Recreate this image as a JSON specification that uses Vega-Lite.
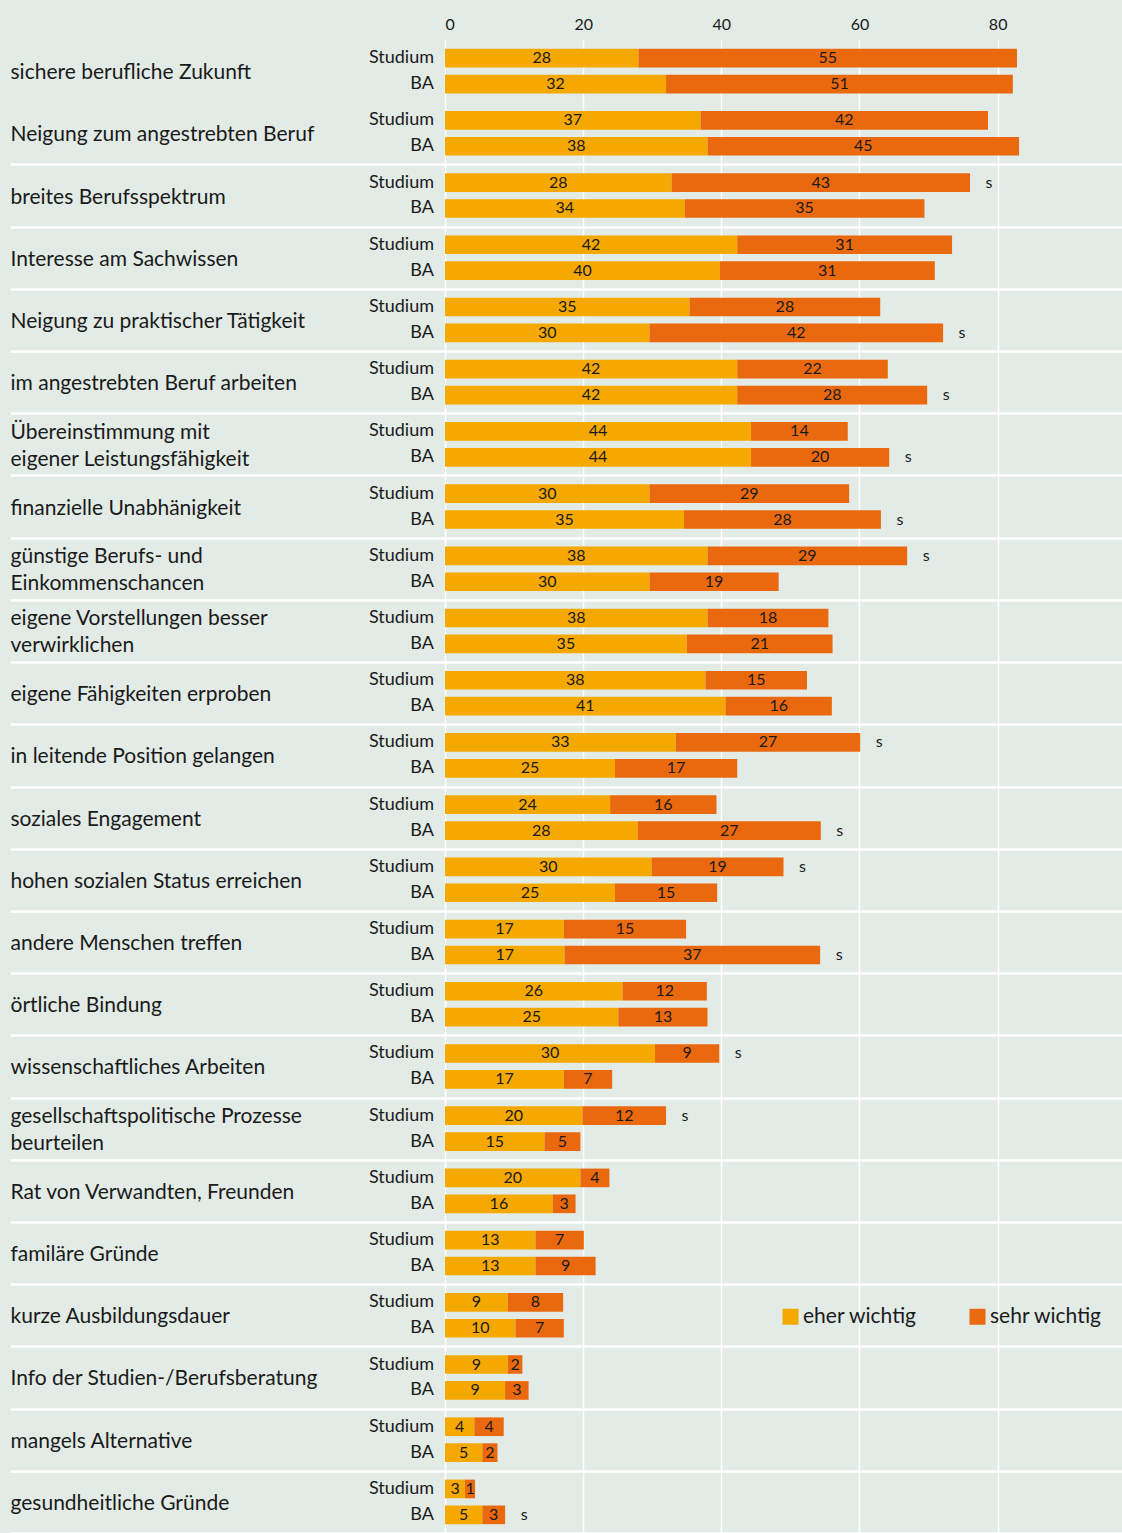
{
  "$schema": "https://vega.github.io/schema/vega-lite/v6.json",
  "autosize": {"type": "none"},
  "padding": {"left": 445, "top": 40, "right": 0, "bottom": 0},
  "width": 677,
  "height": 1493,
  "background": "#E2EBE6",
  "config": {"view": {"stroke": null}, "font": "Lato"},
  "data": {"values": [
    {"c":"sichere berufliche Zukunft","g":"Studium","k":"eher wichtig","v":28.0,"t":"28","s":0},
    {"c":"sichere berufliche Zukunft","g":"Studium","k":"sehr wichtig","v":54.8,"t":"55","s":0},
    {"c":"sichere berufliche Zukunft","g":"BA","k":"eher wichtig","v":32.0,"t":"32","s":0},
    {"c":"sichere berufliche Zukunft","g":"BA","k":"sehr wichtig","v":50.2,"t":"51","s":0},
    {"c":"Neigung zum angestrebten Beruf","g":"Studium","k":"eher wichtig","v":37.0,"t":"37","s":0},
    {"c":"Neigung zum angestrebten Beruf","g":"Studium","k":"sehr wichtig","v":41.6,"t":"42","s":0},
    {"c":"Neigung zum angestrebten Beruf","g":"BA","k":"eher wichtig","v":38.0,"t":"38","s":0},
    {"c":"Neigung zum angestrebten Beruf","g":"BA","k":"sehr wichtig","v":45.1,"t":"45","s":0},
    {"c":"breites Berufsspektrum","g":"Studium","k":"eher wichtig","v":32.8,"t":"28","s":1},
    {"c":"breites Berufsspektrum","g":"Studium","k":"sehr wichtig","v":43.2,"t":"43","s":1},
    {"c":"breites Berufsspektrum","g":"BA","k":"eher wichtig","v":34.7,"t":"34","s":0},
    {"c":"breites Berufsspektrum","g":"BA","k":"sehr wichtig","v":34.7,"t":"35","s":0},
    {"c":"Interesse am Sachwissen","g":"Studium","k":"eher wichtig","v":42.3,"t":"42","s":0},
    {"c":"Interesse am Sachwissen","g":"Studium","k":"sehr wichtig","v":31.1,"t":"31","s":0},
    {"c":"Interesse am Sachwissen","g":"BA","k":"eher wichtig","v":39.8,"t":"40","s":0},
    {"c":"Interesse am Sachwissen","g":"BA","k":"sehr wichtig","v":31.1,"t":"31","s":0},
    {"c":"Neigung zu praktischer Tätigkeit","g":"Studium","k":"eher wichtig","v":35.4,"t":"35","s":0},
    {"c":"Neigung zu praktischer Tätigkeit","g":"Studium","k":"sehr wichtig","v":27.6,"t":"28","s":0},
    {"c":"Neigung zu praktischer Tätigkeit","g":"BA","k":"eher wichtig","v":29.6,"t":"30","s":1},
    {"c":"Neigung zu praktischer Tätigkeit","g":"BA","k":"sehr wichtig","v":42.5,"t":"42","s":1},
    {"c":"im angestrebten Beruf arbeiten","g":"Studium","k":"eher wichtig","v":42.3,"t":"42","s":0},
    {"c":"im angestrebten Beruf arbeiten","g":"Studium","k":"sehr wichtig","v":21.8,"t":"22","s":0},
    {"c":"im angestrebten Beruf arbeiten","g":"BA","k":"eher wichtig","v":42.3,"t":"42","s":1},
    {"c":"im angestrebten Beruf arbeiten","g":"BA","k":"sehr wichtig","v":27.5,"t":"28","s":1},
    {"c":"Übereinstimmung mit|eigener Leistungsfähigkeit","g":"Studium","k":"eher wichtig","v":44.3,"t":"44","s":0},
    {"c":"Übereinstimmung mit|eigener Leistungsfähigkeit","g":"Studium","k":"sehr wichtig","v":14.0,"t":"14","s":0},
    {"c":"Übereinstimmung mit|eigener Leistungsfähigkeit","g":"BA","k":"eher wichtig","v":44.3,"t":"44","s":1},
    {"c":"Übereinstimmung mit|eigener Leistungsfähigkeit","g":"BA","k":"sehr wichtig","v":20.0,"t":"20","s":1},
    {"c":"finanzielle Unabhänigkeit","g":"Studium","k":"eher wichtig","v":29.6,"t":"30","s":0},
    {"c":"finanzielle Unabhänigkeit","g":"Studium","k":"sehr wichtig","v":28.9,"t":"29","s":0},
    {"c":"finanzielle Unabhänigkeit","g":"BA","k":"eher wichtig","v":34.6,"t":"35","s":1},
    {"c":"finanzielle Unabhänigkeit","g":"BA","k":"sehr wichtig","v":28.5,"t":"28","s":1},
    {"c":"günstige Berufs- und|Einkommenschancen","g":"Studium","k":"eher wichtig","v":38.0,"t":"38","s":1},
    {"c":"günstige Berufs- und|Einkommenschancen","g":"Studium","k":"sehr wichtig","v":28.9,"t":"29","s":1},
    {"c":"günstige Berufs- und|Einkommenschancen","g":"BA","k":"eher wichtig","v":29.6,"t":"30","s":0},
    {"c":"günstige Berufs- und|Einkommenschancen","g":"BA","k":"sehr wichtig","v":18.7,"t":"19","s":0},
    {"c":"eigene Vorstellungen besser|verwirklichen","g":"Studium","k":"eher wichtig","v":38.0,"t":"38","s":0},
    {"c":"eigene Vorstellungen besser|verwirklichen","g":"Studium","k":"sehr wichtig","v":17.5,"t":"18","s":0},
    {"c":"eigene Vorstellungen besser|verwirklichen","g":"BA","k":"eher wichtig","v":35.0,"t":"35","s":0},
    {"c":"eigene Vorstellungen besser|verwirklichen","g":"BA","k":"sehr wichtig","v":21.1,"t":"21","s":0},
    {"c":"eigene Fähigkeiten erproben","g":"Studium","k":"eher wichtig","v":37.7,"t":"38","s":0},
    {"c":"eigene Fähigkeiten erproben","g":"Studium","k":"sehr wichtig","v":14.7,"t":"15","s":0},
    {"c":"eigene Fähigkeiten erproben","g":"BA","k":"eher wichtig","v":40.6,"t":"41","s":0},
    {"c":"eigene Fähigkeiten erproben","g":"BA","k":"sehr wichtig","v":15.4,"t":"16","s":0},
    {"c":"in leitende Position gelangen","g":"Studium","k":"eher wichtig","v":33.4,"t":"33","s":1},
    {"c":"in leitende Position gelangen","g":"Studium","k":"sehr wichtig","v":26.7,"t":"27","s":1},
    {"c":"in leitende Position gelangen","g":"BA","k":"eher wichtig","v":24.6,"t":"25","s":0},
    {"c":"in leitende Position gelangen","g":"BA","k":"sehr wichtig","v":17.7,"t":"17","s":0},
    {"c":"soziales Engagement","g":"Studium","k":"eher wichtig","v":23.9,"t":"24","s":0},
    {"c":"soziales Engagement","g":"Studium","k":"sehr wichtig","v":15.4,"t":"16","s":0},
    {"c":"soziales Engagement","g":"BA","k":"eher wichtig","v":27.9,"t":"28","s":1},
    {"c":"soziales Engagement","g":"BA","k":"sehr wichtig","v":26.5,"t":"27","s":1},
    {"c":"hohen sozialen Status erreichen","g":"Studium","k":"eher wichtig","v":29.9,"t":"30","s":1},
    {"c":"hohen sozialen Status erreichen","g":"Studium","k":"sehr wichtig","v":19.1,"t":"19","s":1},
    {"c":"hohen sozialen Status erreichen","g":"BA","k":"eher wichtig","v":24.6,"t":"25","s":0},
    {"c":"hohen sozialen Status erreichen","g":"BA","k":"sehr wichtig","v":14.8,"t":"15","s":0},
    {"c":"andere Menschen treffen","g":"Studium","k":"eher wichtig","v":17.2,"t":"17","s":0},
    {"c":"andere Menschen treffen","g":"Studium","k":"sehr wichtig","v":17.7,"t":"15","s":0},
    {"c":"andere Menschen treffen","g":"BA","k":"eher wichtig","v":17.3,"t":"17","s":1},
    {"c":"andere Menschen treffen","g":"BA","k":"sehr wichtig","v":37.0,"t":"37","s":1},
    {"c":"örtliche Bindung","g":"Studium","k":"eher wichtig","v":25.7,"t":"26","s":0},
    {"c":"örtliche Bindung","g":"Studium","k":"sehr wichtig","v":12.2,"t":"12","s":0},
    {"c":"örtliche Bindung","g":"BA","k":"eher wichtig","v":25.1,"t":"25","s":0},
    {"c":"örtliche Bindung","g":"BA","k":"sehr wichtig","v":12.9,"t":"13","s":0},
    {"c":"wissenschaftliches Arbeiten","g":"Studium","k":"eher wichtig","v":30.4,"t":"30","s":1},
    {"c":"wissenschaftliches Arbeiten","g":"Studium","k":"sehr wichtig","v":9.3,"t":"9","s":1},
    {"c":"wissenschaftliches Arbeiten","g":"BA","k":"eher wichtig","v":17.2,"t":"17","s":0},
    {"c":"wissenschaftliches Arbeiten","g":"BA","k":"sehr wichtig","v":7.0,"t":"7","s":0},
    {"c":"gesellschaftspolitische Prozesse|beurteilen","g":"Studium","k":"eher wichtig","v":19.9,"t":"20","s":1},
    {"c":"gesellschaftspolitische Prozesse|beurteilen","g":"Studium","k":"sehr wichtig","v":12.1,"t":"12","s":1},
    {"c":"gesellschaftspolitische Prozesse|beurteilen","g":"BA","k":"eher wichtig","v":14.4,"t":"15","s":0},
    {"c":"gesellschaftspolitische Prozesse|beurteilen","g":"BA","k":"sehr wichtig","v":5.2,"t":"5","s":0},
    {"c":"Rat von Verwandten, Freunden","g":"Studium","k":"eher wichtig","v":19.6,"t":"20","s":0},
    {"c":"Rat von Verwandten, Freunden","g":"Studium","k":"sehr wichtig","v":4.2,"t":"4","s":0},
    {"c":"Rat von Verwandten, Freunden","g":"BA","k":"eher wichtig","v":15.6,"t":"16","s":0},
    {"c":"Rat von Verwandten, Freunden","g":"BA","k":"sehr wichtig","v":3.3,"t":"3","s":0},
    {"c":"familäre Gründe","g":"Studium","k":"eher wichtig","v":13.1,"t":"13","s":0},
    {"c":"familäre Gründe","g":"Studium","k":"sehr wichtig","v":7.0,"t":"7","s":0},
    {"c":"familäre Gründe","g":"BA","k":"eher wichtig","v":13.1,"t":"13","s":0},
    {"c":"familäre Gründe","g":"BA","k":"sehr wichtig","v":8.7,"t":"9","s":0},
    {"c":"kurze Ausbildungsdauer","g":"Studium","k":"eher wichtig","v":9.1,"t":"9","s":0},
    {"c":"kurze Ausbildungsdauer","g":"Studium","k":"sehr wichtig","v":8.0,"t":"8","s":0},
    {"c":"kurze Ausbildungsdauer","g":"BA","k":"eher wichtig","v":10.2,"t":"10","s":0},
    {"c":"kurze Ausbildungsdauer","g":"BA","k":"sehr wichtig","v":7.0,"t":"7","s":0},
    {"c":"Info der Studien-/Berufsberatung","g":"Studium","k":"eher wichtig","v":9.1,"t":"9","s":0},
    {"c":"Info der Studien-/Berufsberatung","g":"Studium","k":"sehr wichtig","v":2.1,"t":"2","s":0},
    {"c":"Info der Studien-/Berufsberatung","g":"BA","k":"eher wichtig","v":8.7,"t":"9","s":0},
    {"c":"Info der Studien-/Berufsberatung","g":"BA","k":"sehr wichtig","v":3.4,"t":"3","s":0},
    {"c":"mangels Alternative","g":"Studium","k":"eher wichtig","v":4.25,"t":"4","s":0},
    {"c":"mangels Alternative","g":"Studium","k":"sehr wichtig","v":4.25,"t":"4","s":0},
    {"c":"mangels Alternative","g":"BA","k":"eher wichtig","v":5.4,"t":"5","s":0},
    {"c":"mangels Alternative","g":"BA","k":"sehr wichtig","v":2.2,"t":"2","s":0},
    {"c":"gesundheitliche Gründe","g":"Studium","k":"eher wichtig","v":2.9,"t":"3","s":0},
    {"c":"gesundheitliche Gründe","g":"Studium","k":"sehr wichtig","v":1.45,"t":"1","s":0},
    {"c":"gesundheitliche Gründe","g":"BA","k":"eher wichtig","v":5.4,"t":"5","s":1},
    {"c":"gesundheitliche Gründe","g":"BA","k":"sehr wichtig","v":3.3,"t":"3","s":1}
  ]},
  "encoding": {
    "y": {
      "field": "c", "type": "nominal", "sort": null,
      "scale": {"paddingInner": 0, "paddingOuter": 0},
      "axis": {
        "title": null, "orient": "left", "domain": false,
        "tickBand": "extent", "tickSize": 435, "tickWidth": 2.5,
        "tickColor": {"condition": {"test": "datum.value === 'sichere berufliche Zukunft' || datum.extra", "value": "transparent"}, "value": "#ffffff"},
        "grid": true, "gridWidth": 2.5,
        "gridColor": {"condition": {"test": "datum.value === 'sichere berufliche Zukunft' || datum.extra", "value": "transparent"}, "value": "#ffffff"},
        "labelAlign": "left", "labelBaseline": "middle", "labelPadding": 0,
        "labelOffset": -12,
        "labelFont": "Lato", "labelFontSize": 21, "labelColor": "#1a1a1a",
        "labelLimit": 0, "labelLineHeight": 13.5,
        "labelExpr": "indexof(datum.label, '|') >= 0 ? [split(datum.label, '|')[0], '\u2800', split(datum.label, '|')[1]] : ['\u00a0', datum.label]"
      }
    },
    "yOffset": {
      "field": "g", "type": "nominal", "sort": ["Studium", "BA"],
      "scale": {"paddingInner": 0.28, "paddingOuter": 0.34}
    }
  },
  "layer": [
    {
      "mark": {"type": "bar"},
      "encoding": {
        "x": {
          "field": "v", "type": "quantitative", "stack": "zero", "title": null,
          "scale": {"domain": [0, 98], "nice": false, "zero": true},
          "axis": {
            "orient": "top", "values": [0, 20, 40, 60, 80], "domain": false, "ticks": false,
            "labelPadding": 8, "labelFont": "Lato", "labelFontSize": 16, "labelColor": "#1a1a1a",
            "grid": true, "gridColor": "#ffffff", "gridWidth": 1.5, "title": null
          }
        },
        "color": {
          "field": "k", "type": "nominal",
          "scale": {"domain": ["eher wichtig", "sehr wichtig"], "range": ["#F5A800", "#EA690E"]},
          "legend": {
            "title": null, "orient": "none", "legendX": 335, "legendY": 1266,
            "direction": "horizontal", "symbolType": "square", "symbolSize": 256,
            "symbolStrokeWidth": 0, "labelFont": "Lato", "labelFontSize": 21, "labelColor": "#1a1a1a",
            "labelOffset": 2, "columnPadding": 50, "padding": 0
          }
        },
        "order": {"field": "k", "sort": "ascending"}
      }
    },
    {
      "mark": {"type": "text", "fontSize": 16, "color": "#1a1a1a", "font": "Lato", "baseline": "middle", "align": "center"},
      "encoding": {
        "x": {"field": "v", "type": "quantitative", "stack": "zero", "bandPosition": 0.5, "title": null},
        "detail": {"field": "k"},
        "order": {"field": "k", "sort": "ascending"},
        "text": {"field": "t"}
      }
    },
    {
      "transform": [{"filter": "datum.k === 'eher wichtig'"}],
      "mark": {"type": "text", "fontSize": 18, "color": "#1a1a1a", "font": "Lato", "baseline": "middle", "align": "right", "dx": -11},
      "encoding": {
        "x": {"datum": 0},
        "text": {"field": "g"}
      }
    },
    {
      "transform": [
        {"joinaggregate": [{"op": "sum", "field": "v", "as": "tot"}], "groupby": ["c", "g"]},
        {"filter": "datum.s === 1 && datum.k === 'sehr wichtig'"}
      ],
      "mark": {"type": "text", "fontSize": 16, "color": "#1a1a1a", "font": "Lato", "baseline": "middle", "align": "center", "dx": 19},
      "encoding": {
        "x": {"field": "tot", "type": "quantitative", "title": null},
        "text": {"value": "s"}
      }
    }
  ]
}
